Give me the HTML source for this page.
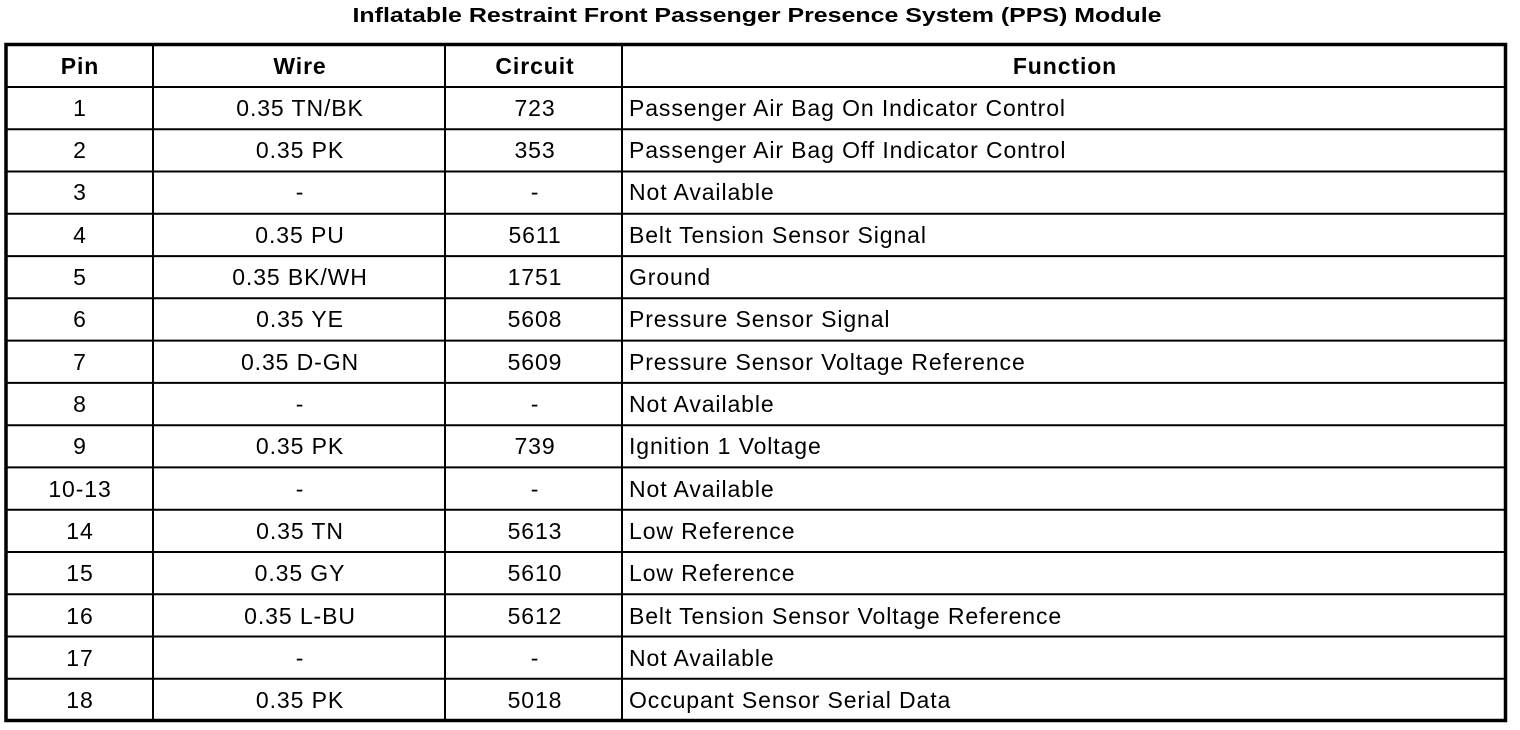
<!DOCTYPE html>
<html><head><style>html,body{margin:0;padding:0;background:#fff}svg{display:block}text{font-family:"Liberation Sans",Arial,sans-serif;fill:#000}</style></head><body>
<svg width="1520" height="730" xmlns="http://www.w3.org/2000/svg">
<text x="757" y="22" text-anchor="middle" font-size="20" font-weight="bold" textLength="809" lengthAdjust="spacingAndGlyphs">Inflatable Restraint Front Passenger Presence System (PPS) Module</text>
<g stroke="#000" stroke-width="2" fill="none">
<line x1="153" y1="45" x2="153" y2="721"/>
<line x1="445" y1="45" x2="445" y2="721"/>
<line x1="622" y1="45" x2="622" y2="721"/>
<line x1="6" y1="87" x2="1506" y2="87"/>
<line x1="6" y1="129.3" x2="1506" y2="129.3"/>
<line x1="6" y1="171.5" x2="1506" y2="171.5"/>
<line x1="6" y1="213.8" x2="1506" y2="213.8"/>
<line x1="6" y1="256.1" x2="1506" y2="256.1"/>
<line x1="6" y1="298.3" x2="1506" y2="298.3"/>
<line x1="6" y1="340.6" x2="1506" y2="340.6"/>
<line x1="6" y1="382.9" x2="1506" y2="382.9"/>
<line x1="6" y1="425.2" x2="1506" y2="425.2"/>
<line x1="6" y1="467.4" x2="1506" y2="467.4"/>
<line x1="6" y1="509.7" x2="1506" y2="509.7"/>
<line x1="6" y1="552" x2="1506" y2="552"/>
<line x1="6" y1="594.2" x2="1506" y2="594.2"/>
<line x1="6" y1="636.5" x2="1506" y2="636.5"/>
<line x1="6" y1="678.8" x2="1506" y2="678.8"/>
<rect x="6" y="44.5" width="1499.5" height="676" stroke-width="3.5"/>
</g>
<g font-size="23" font-weight="bold" text-anchor="middle" letter-spacing="0.9">
<text x="80" y="74">Pin</text><text x="300" y="74">Wire</text><text x="535" y="74">Circuit</text><text x="1065" y="74">Function</text>
</g>
<g font-size="23" letter-spacing="0.9">
<g text-anchor="middle">
<text x="80" y="116">1</text><text x="300" y="116">0.35 TN/BK</text><text x="535" y="116">723</text>
<text x="80" y="158">2</text><text x="300" y="158">0.35 PK</text><text x="535" y="158">353</text>
<text x="80" y="200">3</text><text x="300" y="200">-</text><text x="535" y="200">-</text>
<text x="80" y="243">4</text><text x="300" y="243">0.35 PU</text><text x="535" y="243">5611</text>
<text x="80" y="285">5</text><text x="300" y="285">0.35 BK/WH</text><text x="535" y="285">1751</text>
<text x="80" y="327">6</text><text x="300" y="327">0.35 YE</text><text x="535" y="327">5608</text>
<text x="80" y="370">7</text><text x="300" y="370">0.35 D-GN</text><text x="535" y="370">5609</text>
<text x="80" y="412">8</text><text x="300" y="412">-</text><text x="535" y="412">-</text>
<text x="80" y="454">9</text><text x="300" y="454">0.35 PK</text><text x="535" y="454">739</text>
<text x="80" y="497">10-13</text><text x="300" y="497">-</text><text x="535" y="497">-</text>
<text x="80" y="539">14</text><text x="300" y="539">0.35 TN</text><text x="535" y="539">5613</text>
<text x="80" y="581">15</text><text x="300" y="581">0.35 GY</text><text x="535" y="581">5610</text>
<text x="80" y="624">16</text><text x="300" y="624">0.35 L-BU</text><text x="535" y="624">5612</text>
<text x="80" y="666">17</text><text x="300" y="666">-</text><text x="535" y="666">-</text>
<text x="80" y="708">18</text><text x="300" y="708">0.35 PK</text><text x="535" y="708">5018</text>
</g>
<g>
<text x="629" y="116">Passenger Air Bag On Indicator Control</text>
<text x="629" y="158">Passenger Air Bag Off Indicator Control</text>
<text x="629" y="200">Not Available</text>
<text x="629" y="243">Belt Tension Sensor Signal</text>
<text x="629" y="285">Ground</text>
<text x="629" y="327">Pressure Sensor Signal</text>
<text x="629" y="370">Pressure Sensor Voltage Reference</text>
<text x="629" y="412">Not Available</text>
<text x="629" y="454">Ignition 1 Voltage</text>
<text x="629" y="497">Not Available</text>
<text x="629" y="539">Low Reference</text>
<text x="629" y="581">Low Reference</text>
<text x="629" y="624">Belt Tension Sensor Voltage Reference</text>
<text x="629" y="666">Not Available</text>
<text x="629" y="708">Occupant Sensor Serial Data</text>
</g>
</g>
</svg>
</body></html>
